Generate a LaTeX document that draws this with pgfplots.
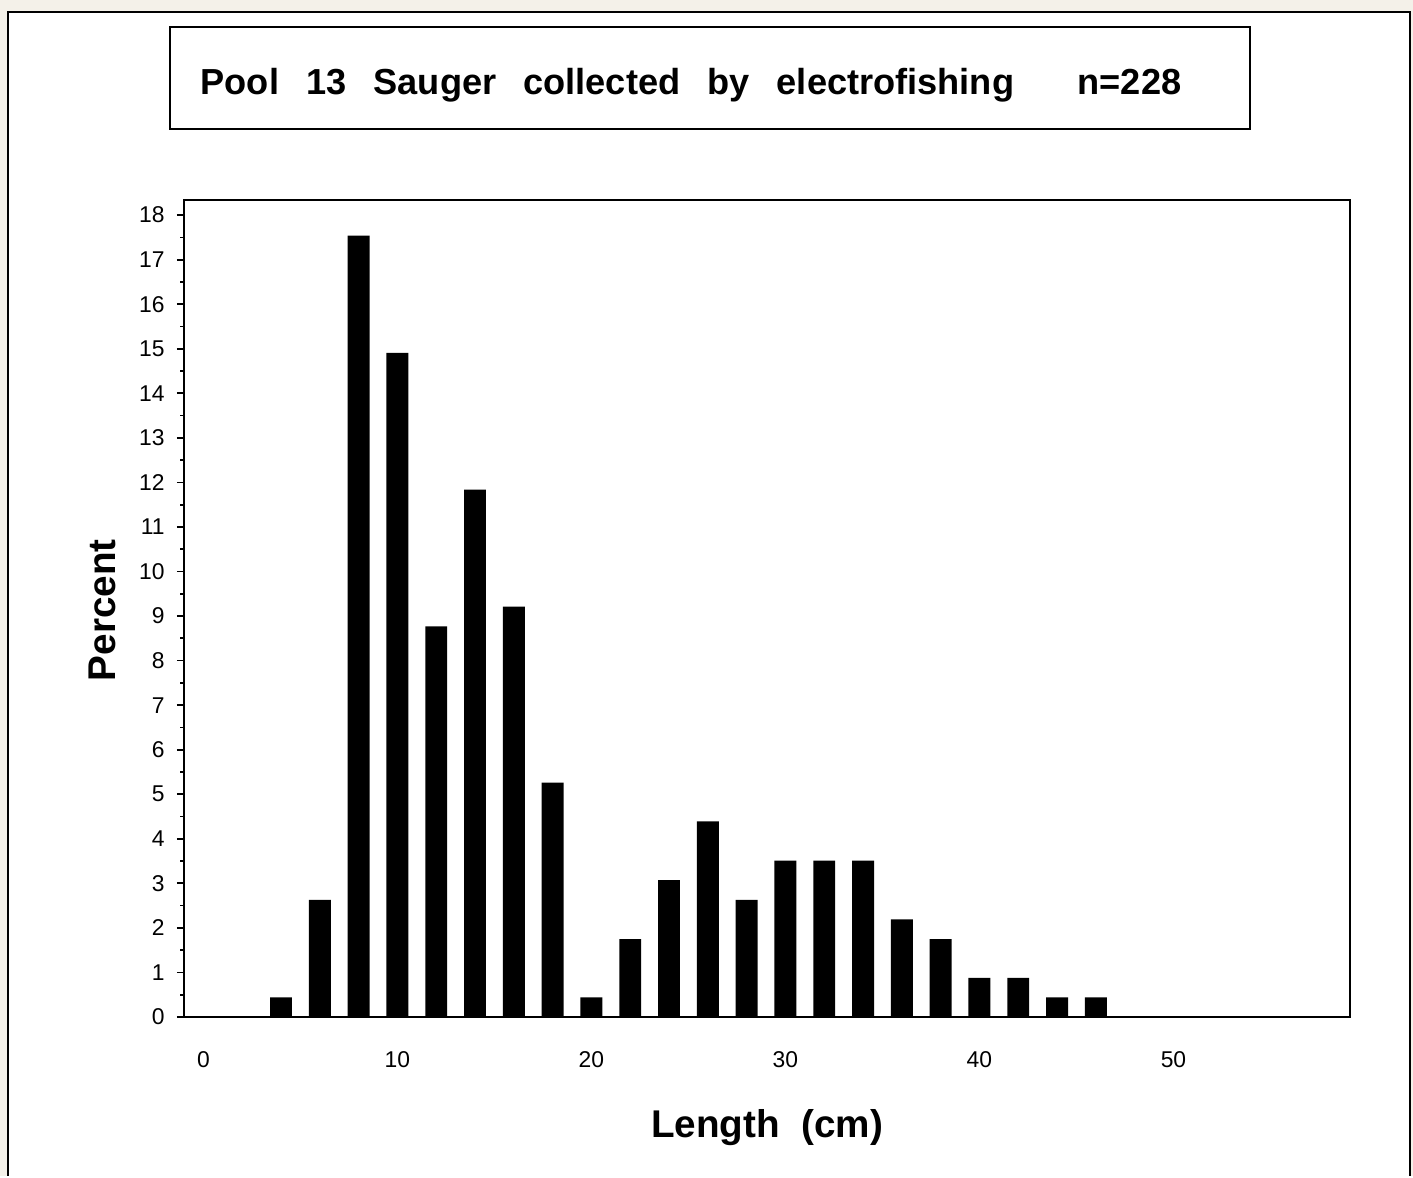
\documentclass[border=0pt]{standalone}
\usepackage{pgfplots}
\pgfplotsset{compat=1.18}
\usepackage{fontspec}
\setmainfont{Liberation Sans}
\definecolor{bgbeige}{RGB}{244,241,233}
\newcommand{\gap}{\ \ \hspace{0.07cm}}
\begin{document}
\begin{tikzpicture}
\fill[bgbeige] (0,0) rectangle (14.13,11.76);
\fill[white] (0.08,0) rectangle (14.10,11.64);
\draw[line width=0.6pt] (0.08,0) -- (0.08,11.64) -- (14.10,11.64) -- (14.10,0);
\draw[line width=0.5pt, fill=white] (1.70,10.47) rectangle (12.50,11.49);
\node[anchor=base west, inner sep=0pt, font=\fontsize{10.3}{12}\selectfont\bfseries] at (2.00,10.81) {Pool\gap 13\gap Sauger\gap collected\gap by\gap electrofishing};
\node[anchor=base east, inner sep=0pt, font=\fontsize{10.3}{12}\selectfont\bfseries] at (11.82,10.81) {n=228};
\begin{axis}[
  at={(1.84cm,1.59cm)}, anchor=south west,
  scale only axis, width=11.66cm, height=8.17cm,
  xmin=-1, xmax=59.1, ymin=0, ymax=18.34,
  ybar, bar width=1.13,
  xtick={0,10,...,50}, ytick={0,1,...,18},
  minor y tick num=1,
  tick align=outside, ytick pos=left, xtick pos=bottom,
  major tick length=0.07cm, minor tick length=0.04cm,
  axis line style={line width=0.6pt},
  every tick/.style={line width=0.5pt, black},
  x tick style={draw=none},
  /pgf/number format/assume math mode=true,
  ticklabel style={font=\fontsize{6.5}{8}\selectfont},
  xticklabel style={yshift=-0.15cm},
  xlabel={Length\ \ (cm)}, ylabel={Percent},
  label style={font=\fontsize{11}{13}\selectfont\bfseries},
  xlabel style={at={(axis description cs:0.5,-0.135)}, anchor=center},
  ylabel style={at={(axis description cs:-0.0703,0.498)}, anchor=center, rotate=0},
]
\addplot[fill=black, draw=none] coordinates {
(4,0.44) (6,2.63) (8,17.54) (10,14.91) (12,8.77) (14,11.84) (16,9.21) (18,5.26)
(20,0.44) (22,1.75) (24,3.07) (26,4.39) (28,2.63) (30,3.51) (32,3.51) (34,3.51)
(36,2.19) (38,1.75) (40,0.88) (42,0.88) (44,0.44) (46,0.44)
};
\end{axis}
\end{tikzpicture}
\end{document}
